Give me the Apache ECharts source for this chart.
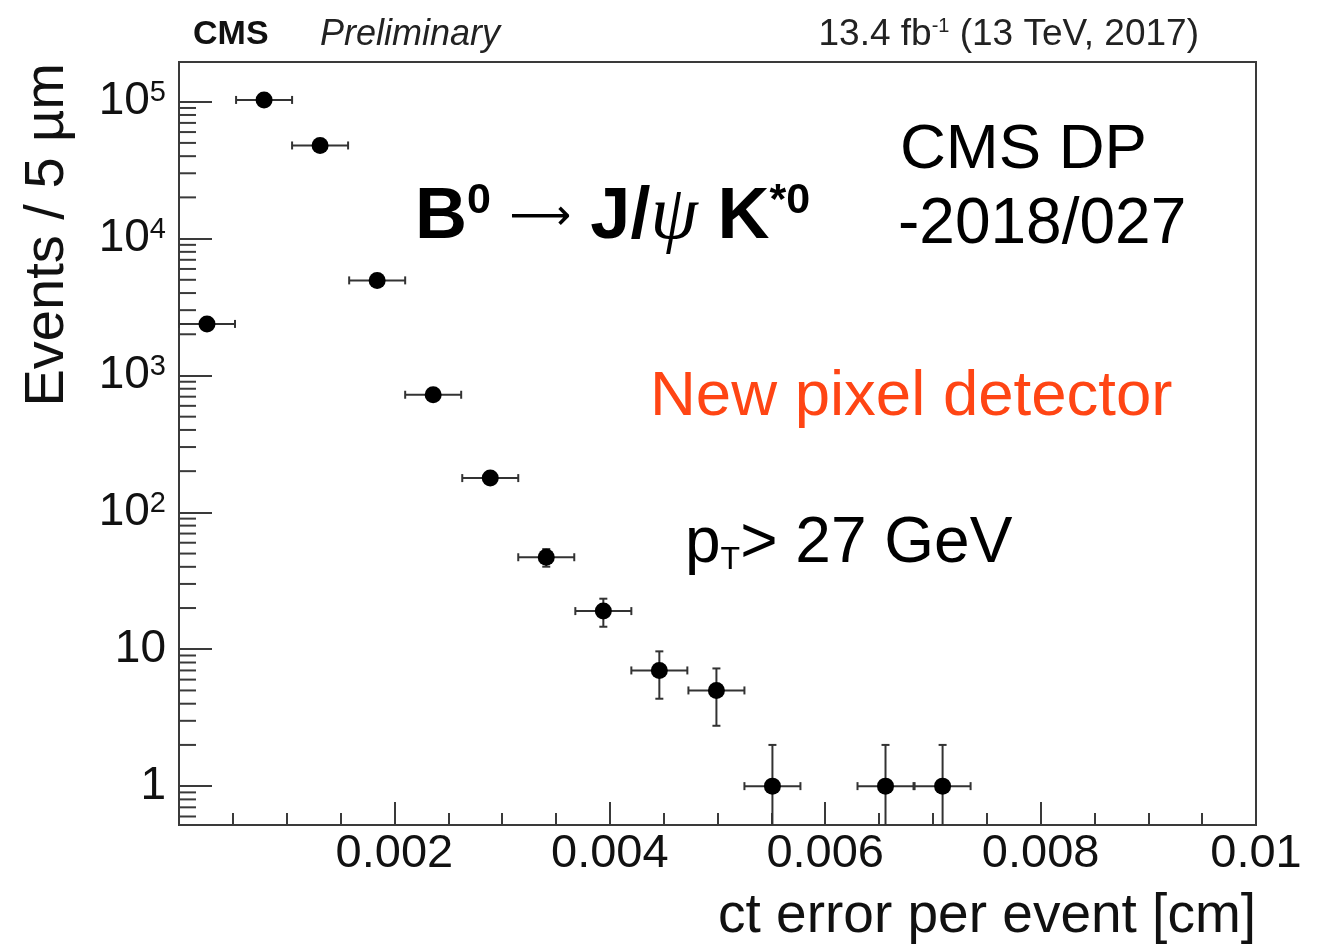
<!DOCTYPE html>
<html><head><meta charset="utf-8">
<script src="https://cdn.jsdelivr.net/npm/echarts@6/dist/echarts.min.js"></script>
<style>html,body{margin:0;padding:0;background:#fff}#c{width:1329px;height:949px}</style>
</head><body><div id="c"></div>
<script>
// ---- data ----
const binCenters    = [0.00026, 0.00079, 0.00131, 0.00184, 0.00236, 0.00289, 0.00341, 0.00394, 0.00446, 0.00499, 0.00551, 0.00656, 0.00709];
const binHalfWidths = [0.00026, 0.00026, 0.00026, 0.00026, 0.00026, 0.00026, 0.00026, 0.00026, 0.00026, 0.00026, 0.00026, 0.00026, 0.00026];
const counts        = [2380, 103000, 47900, 4950, 723, 178, 47, 19, 7, 5, 1, 1, 1];
const countErrors   = [49, 321, 219, 70, 27, 13.3, 6.9, 4.4, 2.65, 2.24, 1, 1, 1];

const xTickValues = [0.002, 0.004, 0.006, 0.008, 0.01];
const xTickLabels = ['0.002', '0.004', '0.006', '0.008', '0.01'];
const yTickValues = [1, 10, 100, 1000, 10000, 100000];
const yTickLabels = ['1', '10', '10{sup|2}', '10{sup|3}', '10{sup|4}', '10{sup|5}'];
const yMinorTicks = [0.6, 0.7, 0.8, 0.9,
  2, 3, 4, 5, 6, 7, 8, 9,
  20, 30, 40, 50, 60, 70, 80, 90,
  200, 300, 400, 500, 600, 700, 800, 900,
  2000, 3000, 4000, 5000, 6000, 7000, 8000, 9000,
  20000, 30000, 40000, 50000, 60000, 70000, 80000, 90000];

const xMin = 0, xMax = 0.01, yMin = 0.52, yMax = 1.95e5;
const FONT = '"Liberation Sans", Arial, Helvetica, sans-serif';
const AX = '#3a3a3a';

const chart = echarts.init(document.getElementById('c'), null, {renderer: 'canvas'});

function findLabel(vals, labels, v) {
  for (let i = 0; i < vals.length; i++) {
    if (Math.abs(v - vals[i]) <= Math.abs(vals[i]) * 1e-6) return labels[i];
  }
  return '';
}

const option = {
  animation: false,
  backgroundColor: '#ffffff',
  grid: {left: 179, right: 73, top: 62, bottom: 124, show: true, borderColor: AX, borderWidth: 2, backgroundColor: 'transparent'},
  xAxis: {
    type: 'value', min: xMin, max: xMax, interval: 0.002,
    axisLine: {show: true, lineStyle: {color: AX, width: 2}},
    axisTick: {show: true, inside: true, length: 23, lineStyle: {color: AX, width: 2}},
    minorTick: {show: true, splitNumber: 4, length: 12, lineStyle: {color: AX, width: 2}},
    splitLine: {show: false},
    axisLabel: {
      fontSize: 47, fontFamily: FONT, color: '#111', margin: 6,
      formatter: v => findLabel(xTickValues, xTickLabels, v)
    }
  },
  yAxis: {
    type: 'log', logBase: 10, min: yMin, max: yMax, splitNumber: 6,
    axisLine: {show: true, lineStyle: {color: AX, width: 2}},
    axisTick: {show: true, inside: true, length: 33, lineStyle: {color: AX, width: 2}},
    minorTick: {show: false},
    splitLine: {show: false},
    axisLabel: {
      fontSize: 46, fontFamily: FONT, color: '#111', margin: 13,
      formatter: v => findLabel(yTickValues, yTickLabels, v),
      rich: {
        sup: {fontSize: 29, fontFamily: FONT, color: '#111', verticalAlign: 'top', lineHeight: 29}
      }
    }
  },
  series: [
    {
      type: 'custom', name: 'minorY', silent: true, z: 5,
      data: yMinorTicks.map(v => [xMin, v]),
      encode: {x: 0, y: 1},
      renderItem: (params, api) => {
        const p = api.coord([api.value(0), api.value(1)]);
        return {type: 'line', shape: {x1: p[0], y1: p[1], x2: p[0] + 17, y2: p[1]},
                style: {stroke: AX, lineWidth: 2}};
      }
    },
    {
      type: 'custom', name: 'errors', silent: true, z: 3,
      data: binCenters.map((x, i) => [x, counts[i], binHalfWidths[i], countErrors[i]]),
      encode: {x: 0, y: 1},
      renderItem: (params, api) => {
        const x = api.value(0), y = api.value(1), dx = api.value(2), dy = api.value(3);
        const lo = Math.max(y - dy, yMin), hi = Math.min(y + dy, yMax);
        const pL = api.coord([Math.max(x - dx, xMin), y]);
        const pR = api.coord([x + dx, y]);
        const pT = api.coord([x, hi]);
        const pB = api.coord([x, lo]);
        const st = {stroke: '#333', lineWidth: 2};
        const c = 4;
        const kids = [
          {type: 'line', shape: {x1: pL[0], y1: pL[1], x2: pR[0], y2: pR[1]}, style: st},
          {type: 'line', shape: {x1: pL[0], y1: pL[1] - c, x2: pL[0], y2: pL[1] + c}, style: st},
          {type: 'line', shape: {x1: pR[0], y1: pR[1] - c, x2: pR[0], y2: pR[1] + c}, style: st},
          {type: 'line', shape: {x1: pT[0], y1: pT[1], x2: pB[0], y2: pB[1]}, style: st},
          {type: 'line', shape: {x1: pT[0] - c, y1: pT[1], x2: pT[0] + c, y2: pT[1]}, style: st}
        ];
        if (lo > yMin) kids.push({type: 'line', shape: {x1: pB[0] - c, y1: pB[1], x2: pB[0] + c, y2: pB[1]}, style: st});
        return {type: 'group', children: kids};
      }
    },
    {
      type: 'scatter', name: 'data', z: 4,
      data: binCenters.map((x, i) => [x, counts[i]]),
      symbol: 'circle', symbolSize: 17,
      itemStyle: {color: '#000', opacity: 1},
      emphasis: {disabled: true}
    }
  ],
  graphic: [
    {type: 'text', x: 193, y: 35, style: {text: 'CMS', fontFamily: FONT, fontWeight: 'bold', fontSize: 34, fill: '#111', align: 'left', verticalAlign: 'middle'}},
    {type: 'text', x: 320, y: 35, style: {text: 'Preliminary', fontFamily: FONT, fontStyle: 'italic', fontSize: 36, fill: '#222', align: 'left', verticalAlign: 'middle'}},
    {type: 'text', x: 1199, y: 35, style: {
      text: '13.4 fb{sup|-1} (13 TeV, 2017)', fontFamily: FONT, fontSize: 37, fill: '#222', align: 'right', verticalAlign: 'middle',
      rich: {sup: {fontFamily: FONT, fontSize: 20, fill: '#222', verticalAlign: 'top', lineHeight: 22}}
    }},
    {type: 'text', x: 48, y: 63, rotation: Math.PI / 2, style: {text: 'Events / 5 µm', fontFamily: FONT, fontSize: 56, fill: '#111', align: 'right', verticalAlign: 'middle'}},
    {type: 'text', x: 1256, y: 917, style: {text: 'ct error per event [cm]', fontFamily: FONT, fontSize: 55, fill: '#111', align: 'right', verticalAlign: 'middle'}},
    {type: 'text', x: 415, y: 218, style: {
      text: '{b|B}{sup|0}{sp| }{ar|⟶}{sp| }{b|J/}{psi|ψ}{b| K}{sup|*0}', fontFamily: FONT, fontSize: 72, fill: '#000', align: 'left', verticalAlign: 'middle',
      rich: {
        b: {fontFamily: FONT, fontWeight: 'bold', fontSize: 72, fill: '#000', lineHeight: 76},
        sup: {fontFamily: FONT, fontWeight: 'bold', fontSize: 43, fill: '#000', verticalAlign: 'top', lineHeight: 44},
        sp: {fontFamily: FONT, fontSize: 68, fill: '#000', lineHeight: 76},
        ar: {fontFamily: '"DejaVu Sans", ' + FONT, fontSize: 43, fill: '#000', lineHeight: 76},
        psi: {fontFamily: '"Liberation Serif", "DejaVu Serif", serif', fontStyle: 'italic', fontSize: 76, fill: '#000', lineHeight: 76}
      }
    }},
    {type: 'text', x: 900, y: 150, style: {text: 'CMS DP', fontFamily: FONT, fontSize: 63.5, fill: '#000', align: 'left', verticalAlign: 'middle'}},
    {type: 'text', x: 898, y: 225, style: {text: '-2018/027', fontFamily: FONT, fontSize: 64, fill: '#000', align: 'left', verticalAlign: 'middle'}},
    {type: 'text', x: 650, y: 397, style: {text: 'New pixel detector', fontFamily: FONT, fontSize: 63.5, fill: '#ff4514', align: 'left', verticalAlign: 'middle'}},
    {type: 'text', x: 685, y: 544, style: {
      text: '{n|p}{sub|T}{n|> 27 GeV}', fontFamily: FONT, fontSize: 64, fill: '#000', align: 'left', verticalAlign: 'middle',
      rich: {
        n: {fontFamily: FONT, fontSize: 64, fill: '#000', lineHeight: 64},
        sub: {fontFamily: FONT, fontSize: 32, fill: '#000', verticalAlign: 'bottom', lineHeight: 32}
      }
    }}
  ]
};
chart.setOption(option);
</script>
</body></html>
